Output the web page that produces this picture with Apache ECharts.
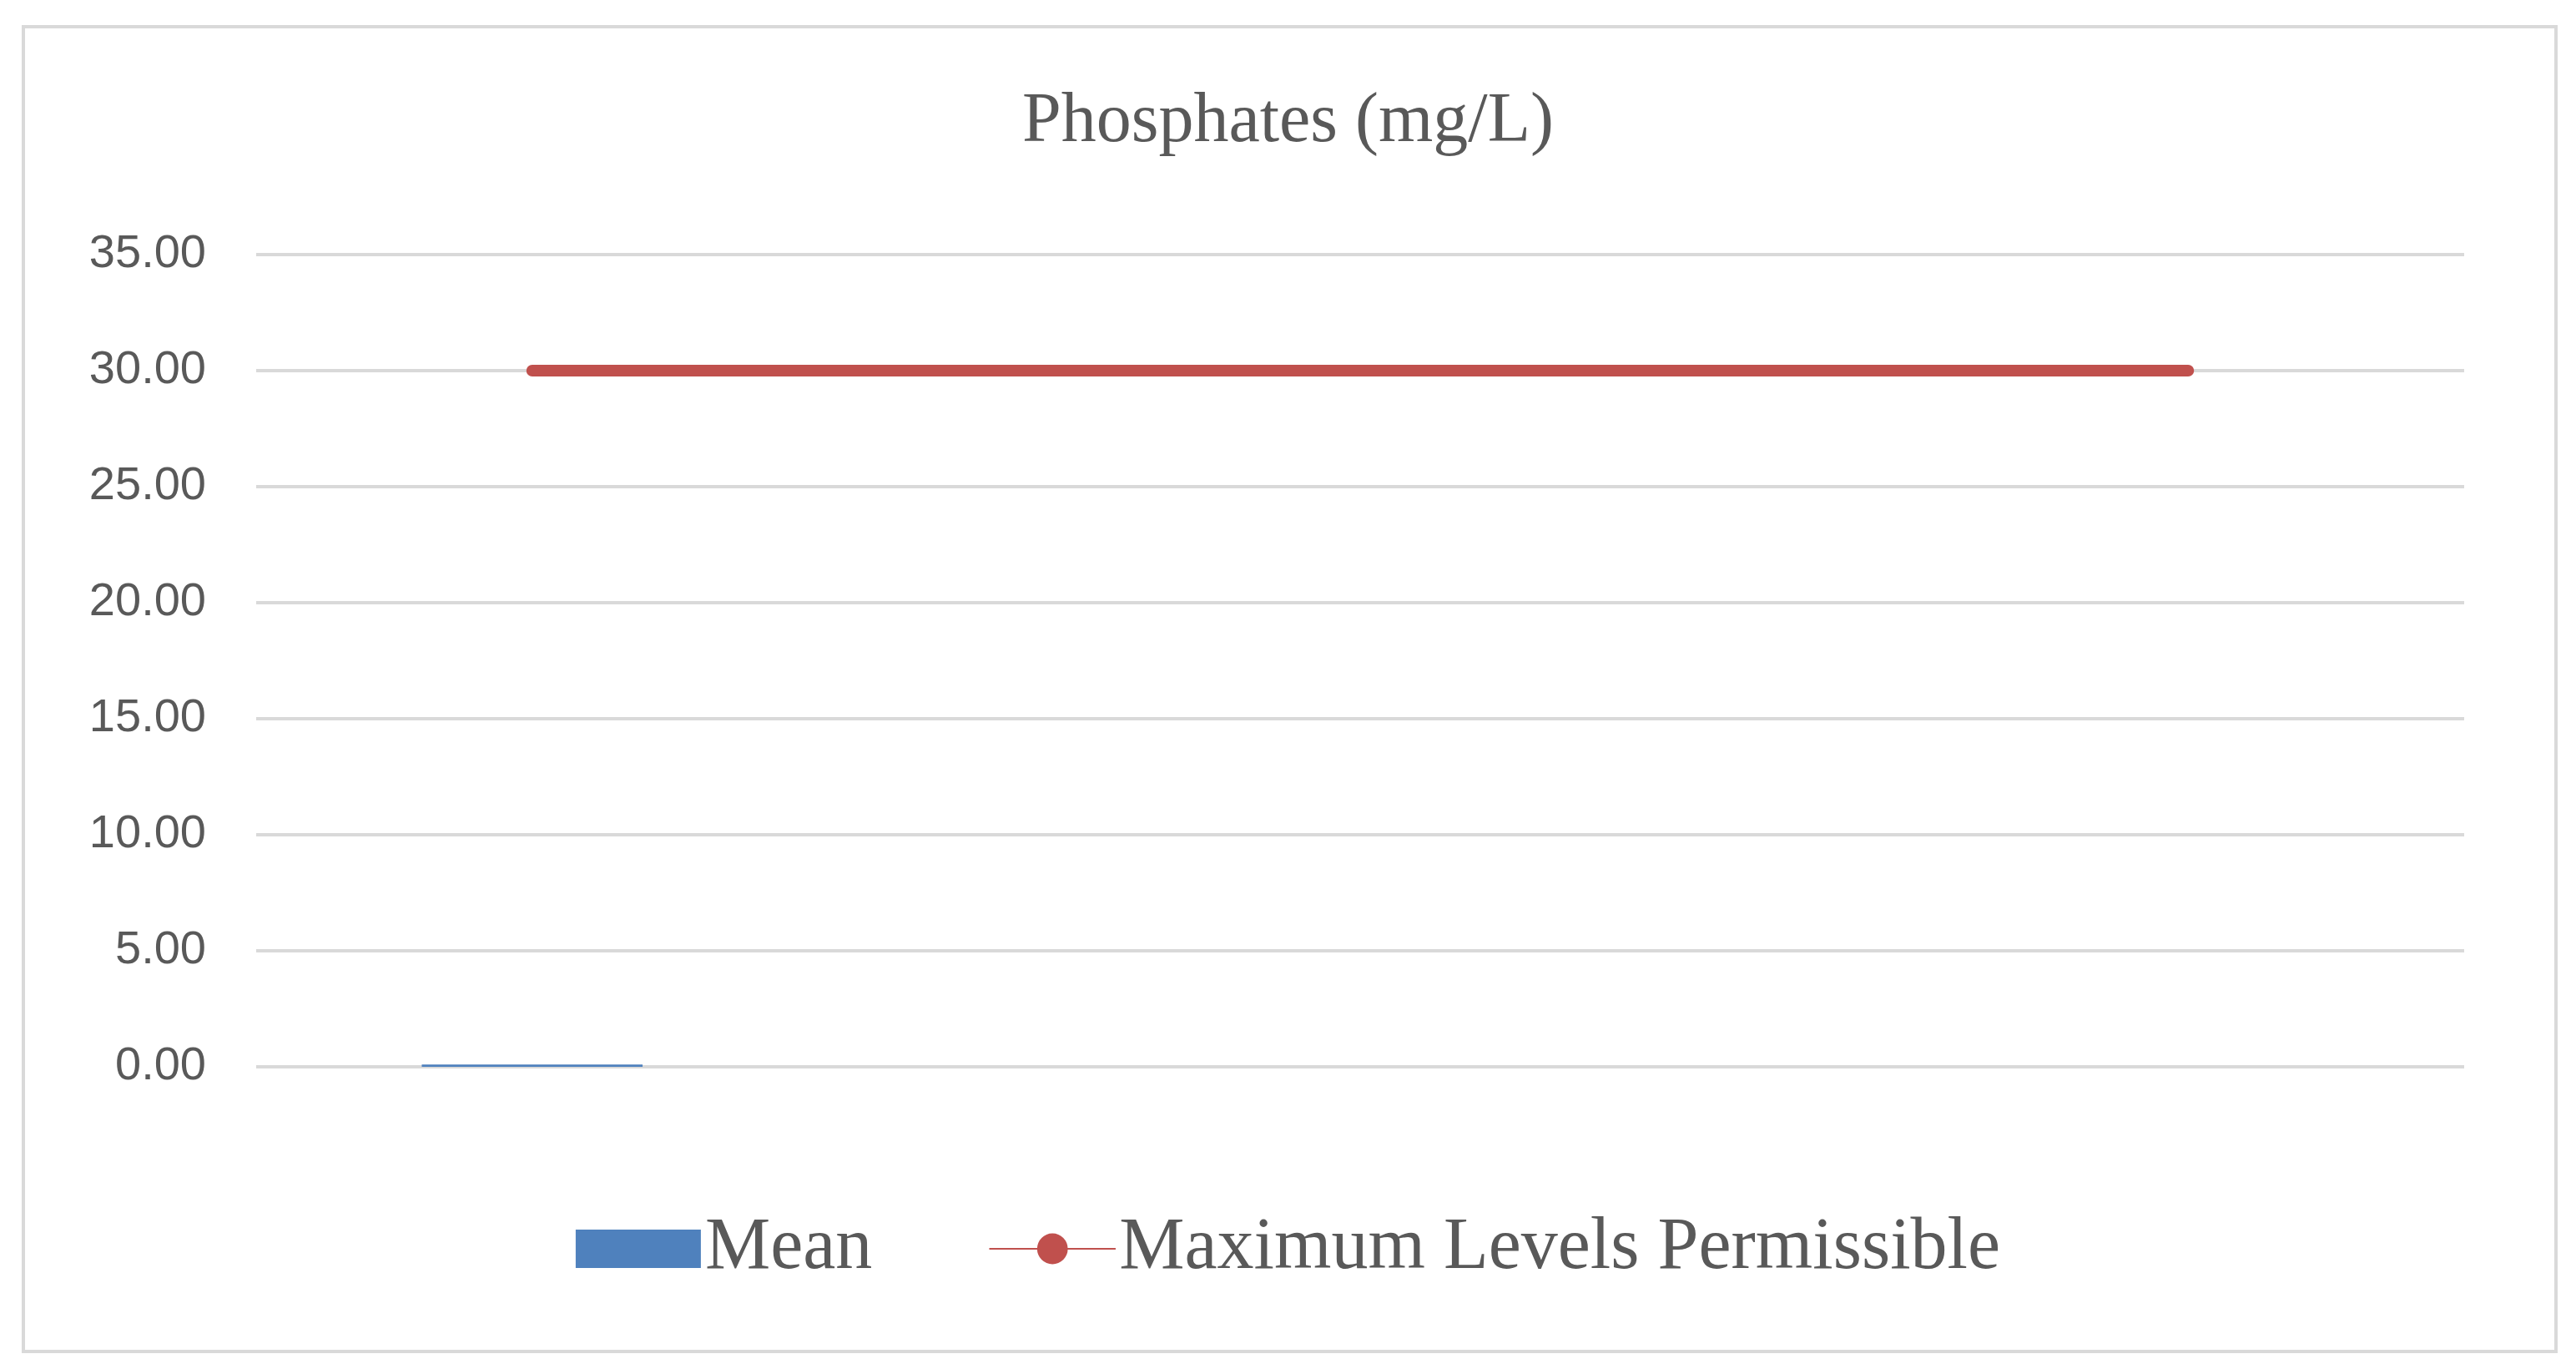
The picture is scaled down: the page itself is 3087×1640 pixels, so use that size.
<!DOCTYPE html>
<html><head><meta charset="utf-8">
<script src="https://cdn.jsdelivr.net/npm/echarts@6/dist/echarts.min.js"></script>
<style>html,body{margin:0;padding:0;background:#fff}#c{width:3087px;height:1640px}</style>
</head><body><div id="c"></div>
<script>
var categories = ['', '', '', ''];
var meanValues = [0.1, 0, 0, 0];
var maxValues = [30, 30, 30, 30];
var yTicks = {min: 0, max: 35, interval: 5};

var chart = echarts.init(document.getElementById('c'));
chart.setOption({
  backgroundColor: '#fff',
  graphic: [{type: 'rect', shape: {x: 28, y: 32, width: 3035, height: 1587},
    style: {fill: 'none', stroke: '#D9D9D9', lineWidth: 4}}],
  title: {text: 'Phosphates (mg/L)', left: 'center', top: 100,
    textStyle: {fontFamily: 'Liberation Serif', fontSize: 84, fontWeight: 'normal', color: '#595959'}},
  legend: {bottom: 95, left: 'center', itemWidth: 150, itemHeight: 46, itemGap: 140,
    textStyle: {fontFamily: 'Liberation Serif', fontSize: 88, color: '#595959'},
    data: [{name: 'Mean', icon: 'rect'}, {name: 'Maximum Levels Permissible'}]},
  grid: {left: 307, right: 134, top: 305, bottom: 362},
  xAxis: {type: 'category', data: categories, axisLine: {show: false}, axisTick: {show: false}, axisLabel: {show: false}},
  yAxis: {type: 'value', min: yTicks.min, max: yTicks.max, interval: yTicks.interval,
    axisLabel: {formatter: function(v){return v.toFixed(2);}, fontFamily: 'Liberation Sans', fontSize: 56, color: '#595959', margin: 60},
    splitLine: {lineStyle: {color: '#D9D9D9', width: 4}}, axisLine: {show: false}, axisTick: {show: false}},
  series: [
    {name: 'Mean', type: 'bar', data: meanValues, barWidth: '40%', itemStyle: {color: '#4F81BD'}},
    {name: 'Maximum Levels Permissible', type: 'line', data: maxValues, symbol: 'none',
      lineStyle: {color: '#C0504D', width: 14, cap: 'round'}, itemStyle: {color: '#C0504D'}}
  ]
});
</script></body></html>
